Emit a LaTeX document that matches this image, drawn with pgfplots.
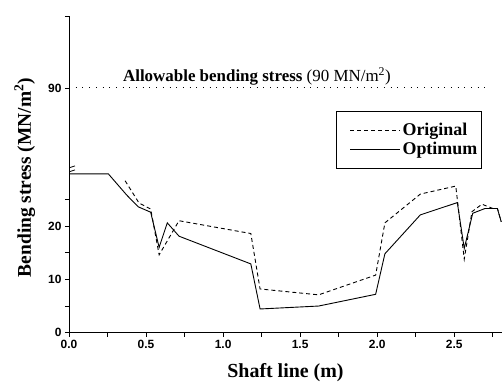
\documentclass[border=0pt]{standalone}
\usepackage{fontspec}
\setmainfont{Liberation Serif}
\setsansfont{Liberation Sans}
\usepackage{pgfplots}
\pgfplotsset{compat=1.18}
\begin{document}
\begin{tikzpicture}
\path[use as bounding box] (-69bp,-54.3bp) rectangle (433bp,332.7bp);
\begin{axis}[
  scale only axis,
  width=433bp, height=316.7bp,
  at={(0,0)}, anchor=south west,
  xmin=0, xmax=2.81,
  ymin=0, ymax=103.5,
  y coord trafo/.code={\pgfmathparse{ifthenelse(#1>50,#1-44.1,#1)}},
  y coord inv trafo/.code={\pgfmathparse{ifthenelse(#1>30.8,#1+44.1,#1)}},
  axis x line*=bottom, axis y line*=left,
  axis line style={line width=1bp},
  xtick={0,0.5,1.0,1.5,2.0,2.5},
  minor xtick={0.25,0.75,1.25,1.75,2.25,2.75},
  ytick={0,10,20,90}, yticklabels={0,10,20,90},
  minor ytick={5,15,25},
  extra y ticks={103.5}, extra y tick labels={},
  tick style={line width=0.8bp, black},
  major tick length=4bp, minor tick length=4bp,
  tick align=outside,
  xticklabel style={/pgf/number format/.cd, fixed, fixed zerofill, precision=1},
  /pgf/number format/assume math mode=true,
  ticklabel style={font=\sffamily\bfseries\fontsize{12}{14}\selectfont},
  xlabel={\textbf{Shaft line (m)}},
  ylabel={\textbf{Bending stress (MN/m\textsuperscript{2})}},
  xlabel style={font=\fontsize{20}{23}\selectfont, at={(axis description cs:0.5,-0.14)}, anchor=base},
  ylabel style={font=\fontsize{19.5}{23}\selectfont, at={(axis description cs:-0.088,0.49)}, anchor=base},
  legend style={at={(rel axis cs:0.616,0.700)}, anchor=north west,
    draw=black, line width=0.8bp, font=\bfseries\fontsize{18}{21}\selectfont,
    inner xsep=2bp, inner ysep=10bp, row sep=1bp},
  legend cell align=left,
  legend image code/.code={\path[draw=none,fill=none] (0bp,0bp) -- (1bp,0bp); \draw[#1] (12bp,0bp) -- (62bp,0bp);},
]
\addplot[black, line width=0.9bp, dash pattern=on 4bp off 3bp] coordinates {
(0.364,28.5) (0.455,24.3) (0.53,23.2) (0.585,14.6) (0.714,21.0) (1.18,18.6)
(1.24,8.2) (1.62,7.1) (1.99,10.8) (2.05,20.6) (2.28,26.0) (2.51,27.5)
(2.565,13.8) (2.615,22.7) (2.68,24.1) (2.75,23.3) (2.78,23.3) (2.805,20.8)
};
\addlegendentry{Original}
\addplot[black, line width=0.9bp] coordinates {
(0,29.8) (0.255,29.8) (0.375,25.8) (0.45,23.6) (0.53,22.6) (0.585,16.0)
(0.638,20.6) (0.714,18.1) (1.18,12.9) (1.24,4.45) (1.62,5.0) (1.99,7.2)
(2.05,14.8) (2.28,22.1) (2.52,24.4) (2.565,15.8) (2.62,22.4) (2.70,23.3)
(2.78,23.3) (2.805,20.8)
};
\addlegendentry{Optimum}
\addplot[black, line width=1bp, dash pattern=on 0.9bp off 5.8bp, forget plot] coordinates {(0,90) (2.72,90)};
\node[anchor=base, font=\fontsize{17}{20}\selectfont] at (rel axis cs:0.434,0.793)
  {\textbf{Allowable bending stress} (90 MN/m\textsuperscript{2})};
\draw[line width=0.8bp] (rel axis cs:0,0.514) ++(-6bp,-4bp) -- ++(12bp,4bp);
\draw[line width=0.8bp] (rel axis cs:0,0.514) ++(-6bp,0bp) -- ++(12bp,4bp);
\end{axis}
\end{tikzpicture}
\end{document}
